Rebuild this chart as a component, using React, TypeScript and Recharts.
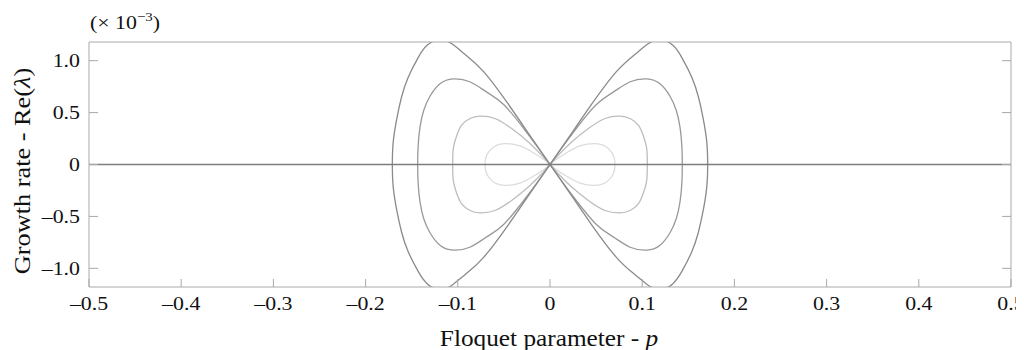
import { LineChart, Line, XAxis, YAxis, ReferenceLine } from 'recharts';

// Floquet parameter ticks and growth-rate ticks (× 10^-3)
const xTicks = [-0.5, -0.4, -0.3, -0.2, -0.1, 0, 0.1, 0.2, 0.3, 0.4, 0.5];
const xTickLabels = ['–0.5', '–0.4', '–0.3', '–0.2', '–0.1', '0', '0.1', '0.2', '0.3', '0.4', '0.5'];
const yTicks = [-1, -0.5, 0, 0.5, 1];
const yTickLabels = ['–1.0', '–0.5', '0', '0.5', '1.0'];

// each curve is a figure-eight traced through the origin
const curveOuter = [
  { x: 0, y: 0 }, { x: -0.02, y: 0.256 }, { x: -0.045, y: 0.578 }, { x: -0.072, y: 0.894 },
  { x: -0.092, y: 1.06 }, { x: -0.106, y: 1.16 }, { x: -0.119, y: 1.205 }, { x: -0.133, y: 1.15 },
  { x: -0.143, y: 1.03 }, { x: -0.154, y: 0.836 }, { x: -0.161, y: 0.65 }, { x: -0.166, y: 0.45 },
  { x: -0.17, y: 0.22 }, { x: -0.171, y: 0 },
  { x: -0.17, y: -0.22 }, { x: -0.166, y: -0.45 }, { x: -0.161, y: -0.65 }, { x: -0.154, y: -0.836 },
  { x: -0.143, y: -1.03 }, { x: -0.133, y: -1.15 }, { x: -0.119, y: -1.205 }, { x: -0.106, y: -1.16 },
  { x: -0.092, y: -1.06 }, { x: -0.072, y: -0.894 }, { x: -0.045, y: -0.578 }, { x: -0.02, y: -0.256 },
  { x: 0, y: 0 },
  { x: 0.02, y: 0.256 }, { x: 0.045, y: 0.578 }, { x: 0.072, y: 0.894 }, { x: 0.092, y: 1.06 },
  { x: 0.106, y: 1.16 }, { x: 0.119, y: 1.205 }, { x: 0.133, y: 1.15 }, { x: 0.143, y: 1.03 },
  { x: 0.154, y: 0.836 }, { x: 0.161, y: 0.65 }, { x: 0.166, y: 0.45 }, { x: 0.17, y: 0.22 },
  { x: 0.171, y: 0 },
  { x: 0.17, y: -0.22 }, { x: 0.166, y: -0.45 }, { x: 0.161, y: -0.65 }, { x: 0.154, y: -0.836 },
  { x: 0.143, y: -1.03 }, { x: 0.133, y: -1.15 }, { x: 0.119, y: -1.205 }, { x: 0.106, y: -1.16 },
  { x: 0.092, y: -1.06 }, { x: 0.072, y: -0.894 }, { x: 0.045, y: -0.578 }, { x: 0.02, y: -0.256 },
  { x: 0, y: 0 },
];

const curveSecond = [
  { x: 0, y: 0 }, { x: -0.012, y: 0.15 }, { x: -0.027, y: 0.33 }, { x: -0.05, y: 0.575 },
  { x: -0.069, y: 0.7 }, { x: -0.087, y: 0.797 }, { x: -0.105, y: 0.825 }, { x: -0.119, y: 0.78 },
  { x: -0.13, y: 0.66 }, { x: -0.137, y: 0.52 }, { x: -0.141, y: 0.36 }, { x: -0.143, y: 0.18 },
  { x: -0.1435, y: 0 },
  { x: -0.143, y: -0.18 }, { x: -0.141, y: -0.36 }, { x: -0.137, y: -0.52 }, { x: -0.13, y: -0.66 },
  { x: -0.119, y: -0.78 }, { x: -0.105, y: -0.825 }, { x: -0.087, y: -0.797 }, { x: -0.069, y: -0.7 },
  { x: -0.05, y: -0.575 }, { x: -0.027, y: -0.33 }, { x: -0.012, y: -0.15 },
  { x: 0, y: 0 },
  { x: 0.012, y: 0.15 }, { x: 0.027, y: 0.33 }, { x: 0.05, y: 0.575 }, { x: 0.069, y: 0.7 },
  { x: 0.087, y: 0.797 }, { x: 0.105, y: 0.825 }, { x: 0.119, y: 0.78 }, { x: 0.13, y: 0.66 },
  { x: 0.137, y: 0.52 }, { x: 0.141, y: 0.36 }, { x: 0.143, y: 0.18 }, { x: 0.1435, y: 0 },
  { x: 0.143, y: -0.18 }, { x: 0.141, y: -0.36 }, { x: 0.137, y: -0.52 }, { x: 0.13, y: -0.66 },
  { x: 0.119, y: -0.78 }, { x: 0.105, y: -0.825 }, { x: 0.087, y: -0.797 }, { x: 0.069, y: -0.7 },
  { x: 0.05, y: -0.575 }, { x: 0.027, y: -0.33 }, { x: 0.012, y: -0.15 },
  { x: 0, y: 0 },
];

const curveThird = [
  { x: 0, y: 0 }, { x: -0.009, y: 0.089 }, { x: -0.0235, y: 0.217 }, { x: -0.0416, y: 0.346 },
  { x: -0.0597, y: 0.443 }, { x: -0.0759, y: 0.466 }, { x: -0.0868, y: 0.443 }, { x: -0.0958, y: 0.379 },
  { x: -0.101, y: 0.282 }, { x: -0.1049, y: 0.153 }, { x: -0.1055, y: 0 },
  { x: -0.1049, y: -0.153 }, { x: -0.101, y: -0.282 }, { x: -0.0958, y: -0.379 }, { x: -0.0868, y: -0.443 },
  { x: -0.0759, y: -0.466 }, { x: -0.0597, y: -0.443 }, { x: -0.0416, y: -0.346 }, { x: -0.0235, y: -0.217 },
  { x: -0.009, y: -0.089 },
  { x: 0, y: 0 },
  { x: 0.009, y: 0.089 }, { x: 0.0235, y: 0.217 }, { x: 0.0416, y: 0.346 }, { x: 0.0597, y: 0.443 },
  { x: 0.0759, y: 0.466 }, { x: 0.0868, y: 0.443 }, { x: 0.0958, y: 0.379 }, { x: 0.101, y: 0.282 },
  { x: 0.1049, y: 0.153 }, { x: 0.1055, y: 0 },
  { x: 0.1049, y: -0.153 }, { x: 0.101, y: -0.282 }, { x: 0.0958, y: -0.379 }, { x: 0.0868, y: -0.443 },
  { x: 0.0759, y: -0.466 }, { x: 0.0597, y: -0.443 }, { x: 0.0416, y: -0.346 }, { x: 0.0235, y: -0.217 },
  { x: 0.009, y: -0.089 },
  { x: 0, y: 0 },
];

const curveInner = [
  { x: 0, y: 0 }, { x: -0.0054, y: 0.04 }, { x: -0.0163, y: 0.104 }, { x: -0.0325, y: 0.179 },
  { x: -0.0488, y: 0.201 }, { x: -0.058, y: 0.185 }, { x: -0.0633, y: 0.153 }, { x: -0.0687, y: 0.089 },
  { x: -0.0705, y: 0 },
  { x: -0.0687, y: -0.089 }, { x: -0.0633, y: -0.153 }, { x: -0.058, y: -0.185 }, { x: -0.0488, y: -0.201 },
  { x: -0.0325, y: -0.179 }, { x: -0.0163, y: -0.104 }, { x: -0.0054, y: -0.04 },
  { x: 0, y: 0 },
  { x: 0.0054, y: 0.04 }, { x: 0.0163, y: 0.104 }, { x: 0.0325, y: 0.179 }, { x: 0.0488, y: 0.201 },
  { x: 0.058, y: 0.185 }, { x: 0.0633, y: 0.153 }, { x: 0.0687, y: 0.089 }, { x: 0.0705, y: 0 },
  { x: 0.0687, y: -0.089 }, { x: 0.0633, y: -0.153 }, { x: 0.058, y: -0.185 }, { x: 0.0488, y: -0.201 },
  { x: 0.0325, y: -0.179 }, { x: 0.0163, y: -0.104 }, { x: 0.0054, y: -0.04 },
  { x: 0, y: 0 },
];

const FONT = 'Liberation Serif';
const FRAME = '#a9a9a9';
const W = 1016;
const H = 342;

const XTick = ({ x, y, index }: any) => (
  <text
    transform={`translate(${x},${y + 23}) scale(1.15,1)`}
    textAnchor="middle"
    fontFamily={FONT}
    fontSize={19}
    fill="#111"
  >
    {xTickLabels[index]}
  </text>
);

const YTick = ({ x, y, index }: any) => (
  <text
    transform={`translate(${x - 9},${y + 6.5}) scale(1.15,1)`}
    textAnchor="end"
    fontFamily={FONT}
    fontSize={19}
    fill="#111"
  >
    {yTickLabels[index]}
  </text>
);

const NoTick = () => <g />;

export default function App() {
  return (
    <div style={{ position: 'relative', width: W, height: H }}>
      <LineChart width={W} height={H} margin={{ top: 33, right: 12, left: 0, bottom: 0 }}>
        <XAxis
          dataKey="x"
          type="number"
          domain={[-0.5, 0.5]}
          ticks={xTicks}
          interval={0}
          height={63}
          stroke={FRAME}
          tickSize={-8}
          tickMargin={8}
          tick={<XTick />}
        />
        <XAxis
          xAxisId="top"
          orientation="top"
          dataKey="x"
          type="number"
          domain={[-0.5, 0.5]}
          ticks={xTicks}
          interval={0}
          height={1}
          stroke={FRAME}
          tickSize={-8}
          tick={NoTick}
        />
        <YAxis
          type="number"
          domain={[-1.18, 1.18]}
          allowDataOverflow
          ticks={yTicks}
          interval={0}
          width={81}
          stroke={FRAME}
          tickSize={-9}
          tickMargin={9}
          tick={<YTick />}
        />
        <YAxis
          yAxisId="right"
          orientation="right"
          type="number"
          domain={[-1.18, 1.18]}
          allowDataOverflow
          ticks={yTicks}
          interval={0}
          width={1}
          stroke={FRAME}
          tickSize={-9}
          tick={NoTick}
        />
        <Line data={curveInner} dataKey="y" type="natural" stroke="#dcdcdc" strokeWidth={1.3} dot={false} activeDot={false} isAnimationActive={false} />
        <Line data={curveThird} dataKey="y" type="natural" stroke="#bdbdbd" strokeWidth={1.3} dot={false} activeDot={false} isAnimationActive={false} />
        <Line data={curveSecond} dataKey="y" type="natural" stroke="#999999" strokeWidth={1.3} dot={false} activeDot={false} isAnimationActive={false} />
        <Line data={curveOuter} dataKey="y" type="natural" stroke="#8a8a8a" strokeWidth={1.3} dot={false} activeDot={false} isAnimationActive={false} />
        <ReferenceLine y={0} stroke="#7d7d7d" strokeWidth={1.6} />
      </LineChart>
      <svg
        width={W}
        height={H}
        style={{ position: 'absolute', left: 0, top: 0, pointerEvents: 'none' }}
      >
        <text transform="translate(82,20.5) scale(1.15,1)" fontFamily={FONT} fontSize={19} fill="#111">
          (× 10<tspan dy={-7.5} fontSize={13}>−3</tspan><tspan dy={7.5}>)</tspan>
        </text>
        <text
          transform="translate(541,337.5) scale(1.1,1)"
          textAnchor="middle"
          fontFamily={FONT}
          fontSize={23}
          fill="#111"
        >
          Floquet parameter - <tspan fontStyle="italic">p</tspan>
        </text>
        <text
          transform="translate(21.5,163) rotate(-90) scale(1.12,1)"
          textAnchor="middle"
          fontFamily={FONT}
          fontSize={23.5}
          fill="#111"
        >
          Growth rate - Re(<tspan fontStyle="italic">λ</tspan>)
        </text>
      </svg>
    </div>
  );
}
